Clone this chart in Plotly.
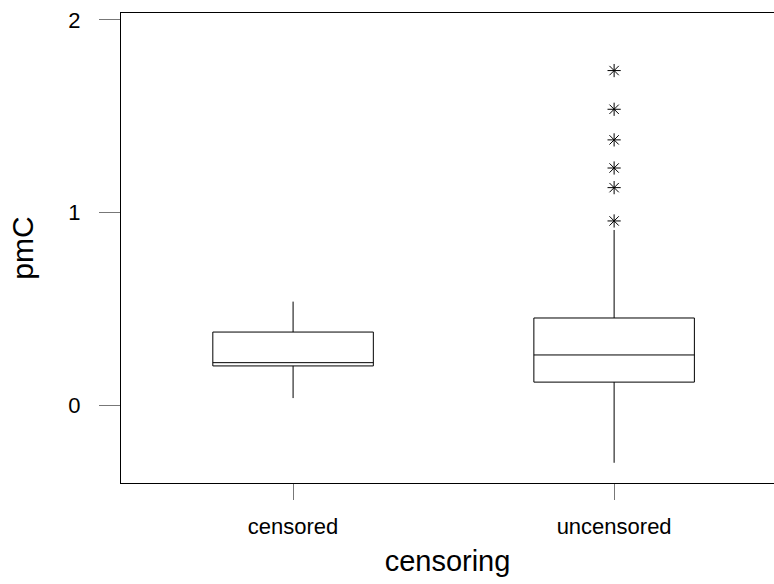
import plotly.graph_objects as go

categories = ["censored", "uncensored"]
q1 = [0.203, 0.119]
median = [0.22, 0.26]
q3 = [0.379, 0.452]
lower_whisker = [0.036, -0.30]
upper_whisker = [0.537, 0.909]
outliers_uncensored = [0.956, 1.129, 1.231, 1.377, 1.536, 1.737]
y_ticks = [0, 1, 2]

fig = go.Figure()
fig.add_trace(go.Box(
    x=categories,
    q1=q1, median=median, q3=q3,
    lowerfence=lower_whisker, upperfence=upper_whisker,
    width=0.5, whiskerwidth=0,
    fillcolor="white",
    line=dict(color="black", width=1),
    boxpoints=False,
    showlegend=False,
    hoverinfo="skip",
))
fig.add_trace(go.Scatter(
    x=["uncensored"] * len(outliers_uncensored),
    y=outliers_uncensored,
    mode="markers",
    marker=dict(symbol="asterisk-open", size=11, color="black",
                line=dict(color="black", width=1)),
    showlegend=False,
    hoverinfo="skip",
))

font = "Liberation Sans, Arial, sans-serif"
fig.update_layout(
    width=774, height=584,
    margin=dict(l=121, r=0, t=13, b=101),
    paper_bgcolor="white", plot_bgcolor="white",
    font=dict(family=font, color="black"),
    xaxis=dict(
        type="category",
        range=[-0.536, 1.498],
        showgrid=False, zeroline=False,
        showline=True, linecolor="black", linewidth=1, mirror=True,
        ticks="outside", ticklen=16, tickcolor="#777", tickwidth=1,
        tickfont=dict(size=22, family=font),
        ticklabelstandoff=8,
        title=dict(text="censoring", font=dict(size=29, family=font), standoff=12),
    ),
    yaxis=dict(
        range=[-0.405, 2.036],
        tickvals=y_ticks,
        showgrid=False, zeroline=False,
        showline=True, linecolor="black", linewidth=1, mirror=False,
        ticks="outside", ticklen=21, tickcolor="#777", tickwidth=1,
        tickfont=dict(size=22, family=font),
        ticklabelstandoff=14,
        title=dict(text="pmC", font=dict(size=30, family=font), standoff=25),
    ),
)
fig.write_html("out.html")
